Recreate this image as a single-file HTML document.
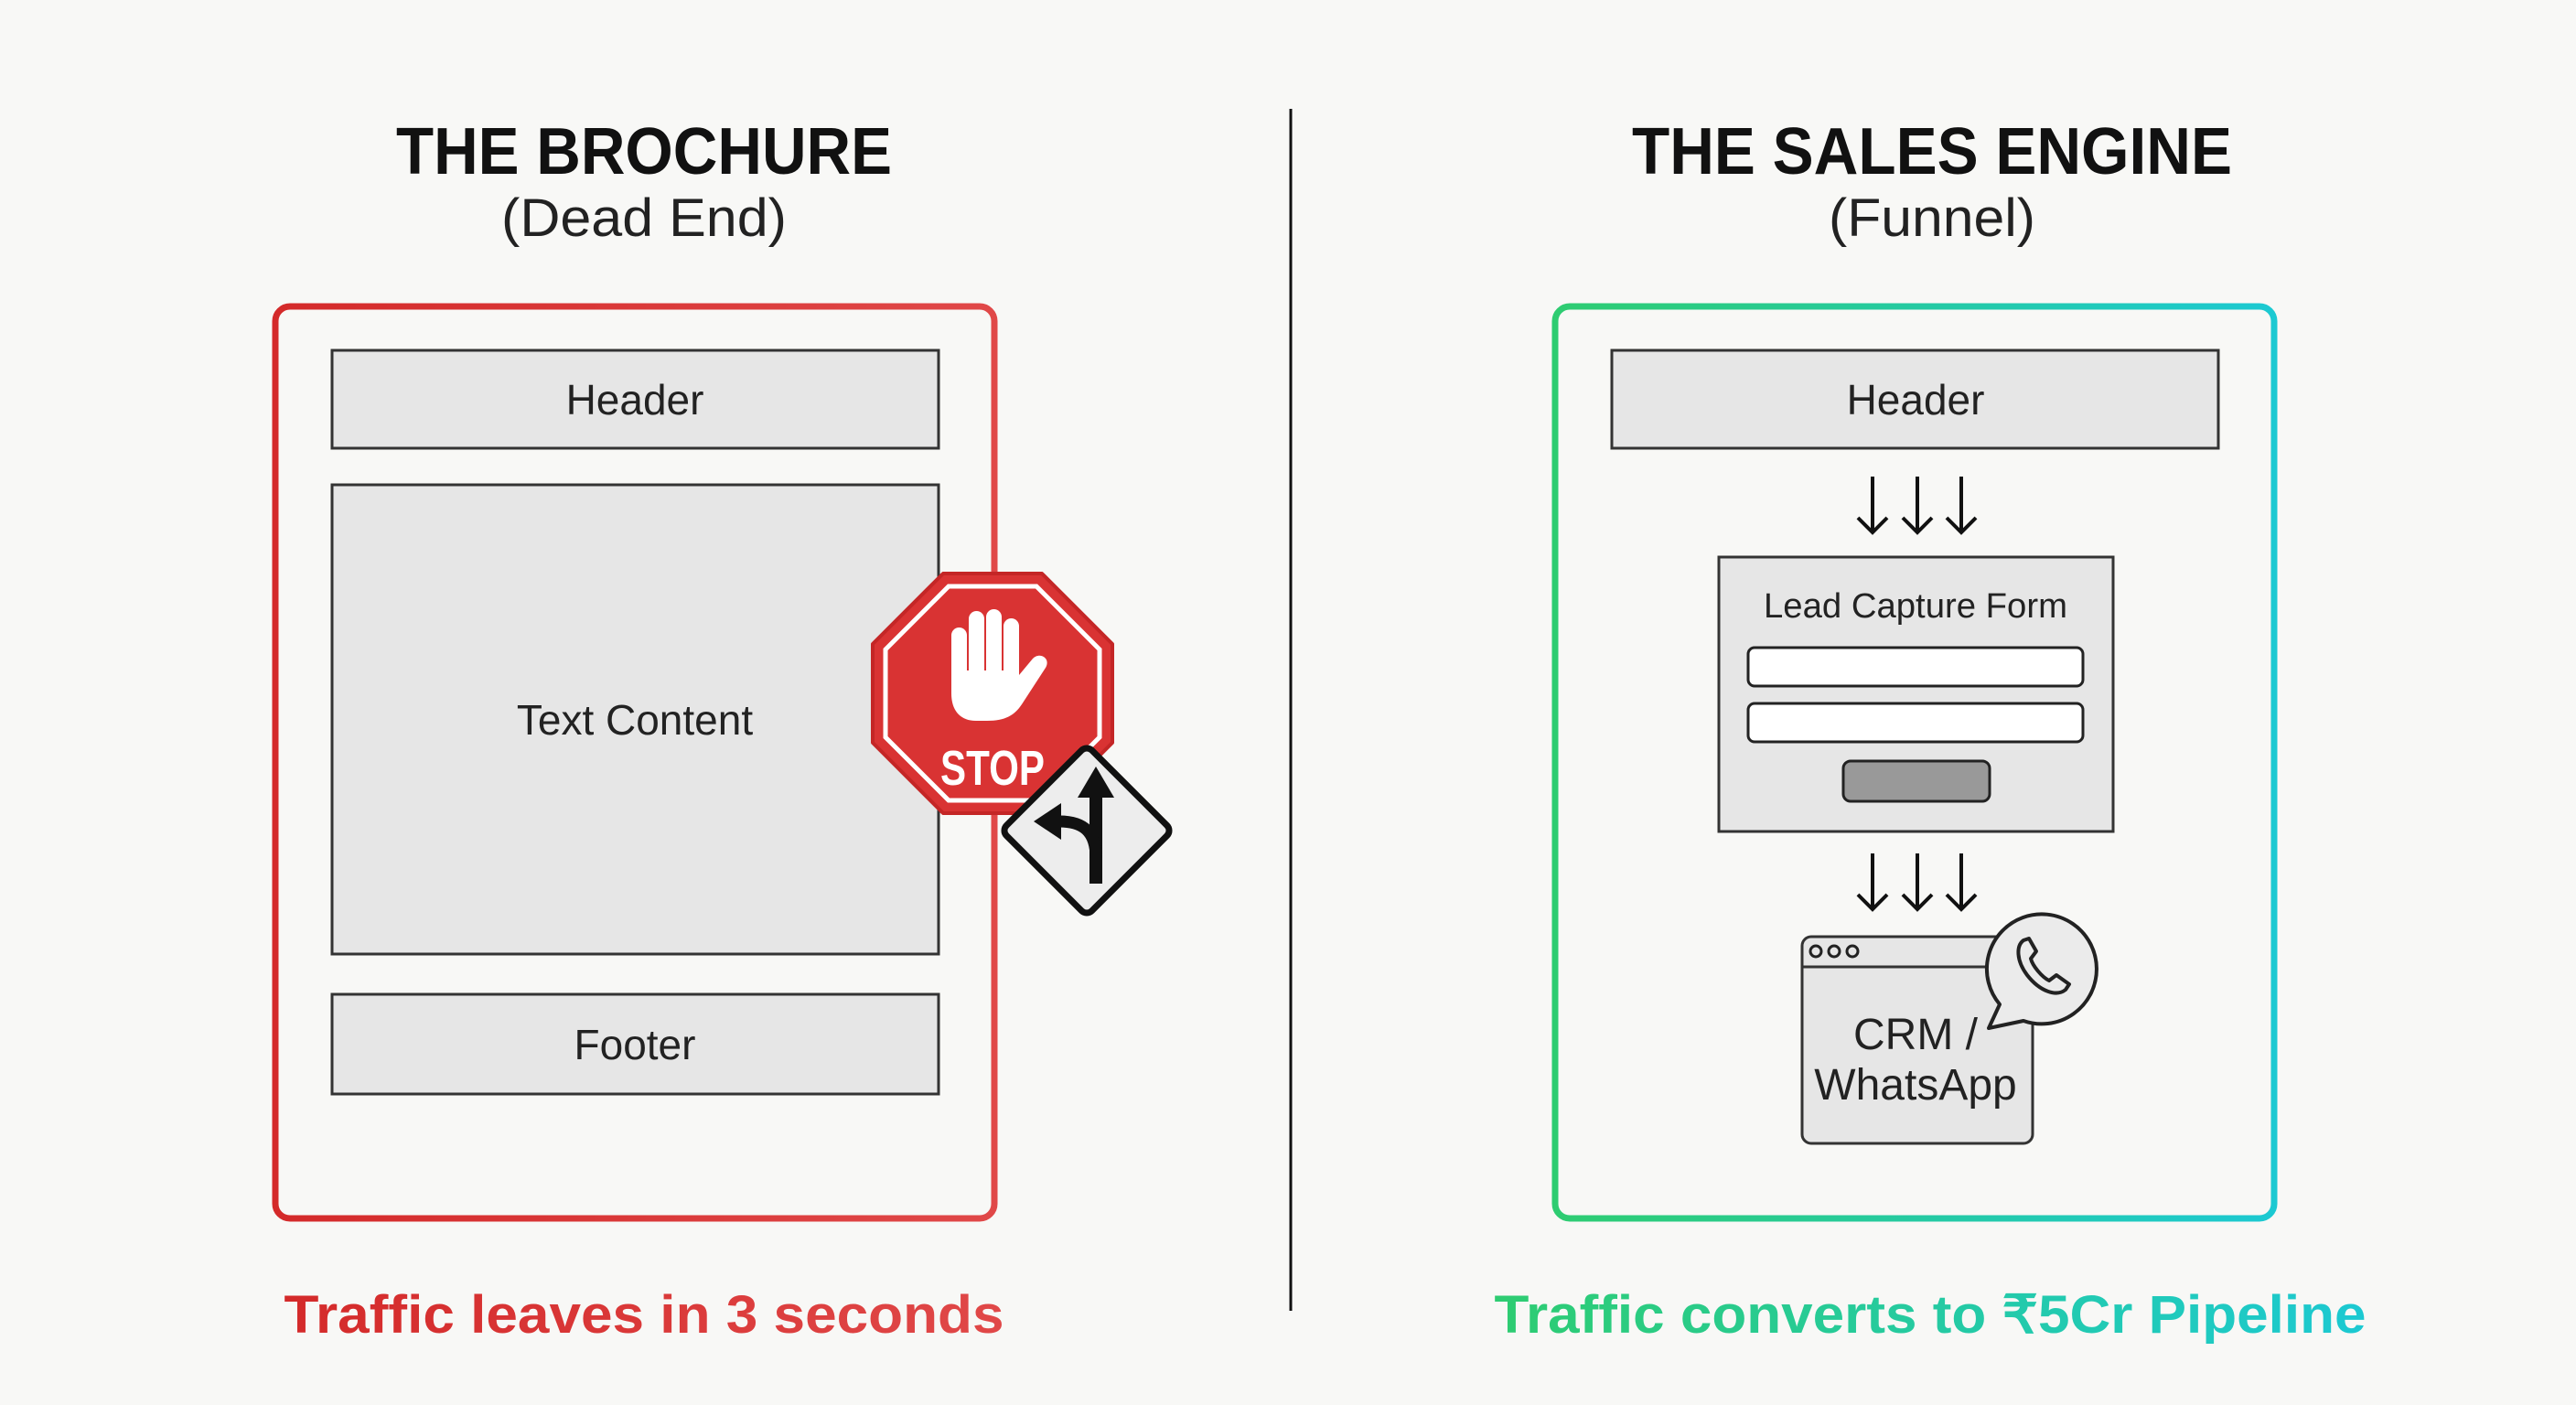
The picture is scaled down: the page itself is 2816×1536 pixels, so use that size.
<!DOCTYPE html>
<html><head><meta charset="utf-8"><style>
html,body{margin:0;padding:0;background:#f8f8f6;}
svg{display:block;}
text{font-family:"Liberation Sans",sans-serif;}
</style></head><body>
<svg width="2816" height="1536" viewBox="0 0 2816 1536" xmlns="http://www.w3.org/2000/svg">
<defs>
<linearGradient id="gr" x1="0" y1="0" x2="1" y2="0">
<stop offset="0" stop-color="#2ecc71"/><stop offset="1" stop-color="#1cc9d2"/>
</linearGradient>
<linearGradient id="rd" x1="0" y1="0" x2="1" y2="0">
<stop offset="0" stop-color="#d42a2a"/><stop offset="1" stop-color="#e04848"/>
</linearGradient>
</defs>
<rect width="2816" height="1536" fill="#f8f8f6"/>
<line x1="1411" y1="119" x2="1411" y2="1433" stroke="#111" stroke-width="3"/>

<text x="704" y="190" text-anchor="middle" font-size="72" font-weight="bold" fill="#111" textLength="542" lengthAdjust="spacingAndGlyphs">THE BROCHURE</text>
<text x="704" y="258" text-anchor="middle" font-size="58" fill="#222" textLength="312" lengthAdjust="spacingAndGlyphs">(Dead End)</text>
<rect x="301" y="335" width="786" height="997" rx="16" fill="none" stroke="url(#rd)" stroke-width="7"/>
<rect x="363" y="383" width="663" height="107" fill="#e6e6e6" stroke="#333" stroke-width="3"/>
<text x="694" y="453" text-anchor="middle" font-size="46" fill="#222">Header</text>
<rect x="363" y="530" width="663" height="513" fill="#e6e6e6" stroke="#333" stroke-width="3"/>
<text x="694" y="803" text-anchor="middle" font-size="46" fill="#222">Text Content</text>
<rect x="363" y="1087" width="663" height="109" fill="#e6e6e6" stroke="#333" stroke-width="3"/>
<text x="694" y="1158" text-anchor="middle" font-size="46" fill="#222">Footer</text>

<g transform="translate(1085,758)">
<polygon points="-54,-131 54,-131 131,-54 131,54 54,131 -54,131 -131,54 -131,-54" fill="#d93333" stroke="#c42626" stroke-width="4" stroke-linejoin="round"/>
<polygon points="-48,-117 48,-117 117,-48 117,48 48,117 -48,117 -117,48 -117,-48" fill="none" stroke="#fff" stroke-width="5"/>
<g fill="#fff">
<rect x="-45" y="-72" width="17" height="62" rx="8.5"/>
<rect x="-26" y="-90" width="17" height="80" rx="8.5"/>
<rect x="-7" y="-92" width="17" height="82" rx="8.5"/>
<rect x="12" y="-82" width="17" height="72" rx="8.5"/>
<path d="M-45,-25 L29,-25 L29,-20 L44,-38 C52,-46 64,-38 58,-28 L32,12 C24,24 14,30 -6,30 L-18,30 C-36,30 -45,18 -45,0 Z"/>
</g>
<text x="0" y="100" text-anchor="middle" font-size="54" font-weight="bold" fill="#fff" textLength="114" lengthAdjust="spacingAndGlyphs">STOP</text>
</g>
<g transform="translate(1188,908)">
<rect x="-66" y="-66" width="132" height="132" rx="8" transform="rotate(45)" fill="#ededed" stroke="#111" stroke-width="7"/>
<path d="M10,58 L10,-40" stroke="#111" stroke-width="14" fill="none"/>
<polygon points="-10,-36 30,-36 10,-70" fill="#111"/>
<path d="M10,30 C10,0 -5,-10 -30,-10" stroke="#111" stroke-width="13" fill="none"/>
<polygon points="-28,-30 -28,10 -58,-10" fill="#111"/>
</g>

<text x="2112" y="190" text-anchor="middle" font-size="72" font-weight="bold" fill="#111" textLength="656" lengthAdjust="spacingAndGlyphs">THE SALES ENGINE</text>
<text x="2112" y="258" text-anchor="middle" font-size="58" fill="#222" textLength="226" lengthAdjust="spacingAndGlyphs">(Funnel)</text>
<rect x="1700" y="335" width="786" height="997" rx="16" fill="none" stroke="url(#gr)" stroke-width="7"/>
<rect x="1762" y="383" width="663" height="107" fill="#e6e6e6" stroke="#333" stroke-width="3"/>
<text x="2094" y="453" text-anchor="middle" font-size="46" fill="#222">Header</text>
<g stroke="#111" stroke-width="4" fill="none">
<path d="M2047,521 V582 M2031,566 L2047,582 L2063,566"/>
<path d="M2096,521 V582 M2080,566 L2096,582 L2112,566"/>
<path d="M2144,521 V582 M2128,566 L2144,582 L2160,566"/>
<path d="M2047,933 V994 M2031,978 L2047,994 L2063,978"/>
<path d="M2096,933 V994 M2080,978 L2096,994 L2112,978"/>
<path d="M2144,933 V994 M2128,978 L2144,994 L2160,978"/>
</g>
<rect x="1879" y="609" width="431" height="300" fill="#e6e6e6" stroke="#333" stroke-width="3"/>
<text x="2094" y="675" text-anchor="middle" font-size="38" fill="#222" textLength="332" lengthAdjust="spacingAndGlyphs">Lead Capture Form</text>
<rect x="1911" y="708" width="366" height="42" rx="7" fill="#fff" stroke="#222" stroke-width="3"/>
<rect x="1911" y="769" width="366" height="42" rx="7" fill="#fff" stroke="#222" stroke-width="3"/>
<rect x="2015" y="832" width="160" height="44" rx="8" fill="#999" stroke="#222" stroke-width="3"/>

<rect x="1970" y="1024" width="252" height="226" rx="10" fill="#e6e6e6" stroke="#333" stroke-width="3"/>
<line x1="1970" y1="1057" x2="2222" y2="1057" stroke="#333" stroke-width="3"/>
<g fill="none" stroke="#222" stroke-width="3">
<circle cx="1985" cy="1040" r="6"/><circle cx="2005" cy="1040" r="6"/><circle cx="2025" cy="1040" r="6"/>
</g>
<text x="2094" y="1147" text-anchor="middle" font-size="48" fill="#222">CRM /</text>
<text x="2094" y="1202" text-anchor="middle" font-size="48" fill="#222">WhatsApp</text>
<path d="M2186,1098 A60,60 0 1 1 2212,1116 L2174,1124 Z" fill="#ebebeb" stroke="#222" stroke-width="4" stroke-linejoin="round"/>
<path d="M2212,1028 C2204,1034 2204,1050 2216,1066 C2230,1084 2248,1090 2258,1082 L2262,1076 L2248,1066 L2240,1072 C2232,1068 2222,1056 2220,1048 L2226,1040 L2218,1026 Z" fill="none" stroke="#222" stroke-width="4" stroke-linejoin="round"/>

<text x="704" y="1457" text-anchor="middle" font-size="58" font-weight="bold" fill="url(#rd)" textLength="787" lengthAdjust="spacingAndGlyphs">Traffic leaves in 3 seconds</text>
<text x="2110" y="1457" text-anchor="middle" font-size="58" font-weight="bold" fill="url(#gr)" textLength="953" lengthAdjust="spacingAndGlyphs">Traffic converts to ₹5Cr Pipeline</text>
</svg>
</body></html>
